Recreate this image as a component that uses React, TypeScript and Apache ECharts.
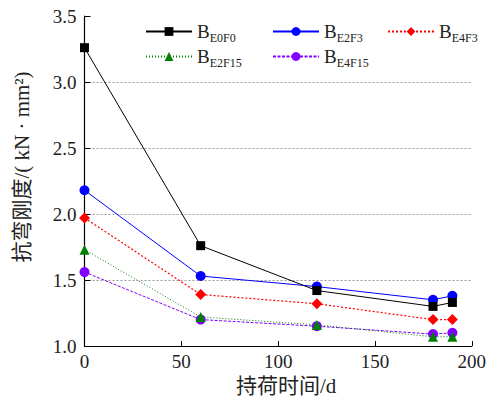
import React, { useEffect, useRef } from "react";
import * as echarts from "echarts";

const days = [0, 60, 120, 180, 190];
const seriesNames = ["BE0F0", "BE2F3", "BE4F3", "BE2F15", "BE4F15"];
const valE0F0 = [3.26, 1.76, 1.42, 1.30, 1.33];
const valE2F3 = [2.18, 1.53, 1.45, 1.35, 1.38];
const valE4F3 = [1.97, 1.39, 1.32, 1.20, 1.20];
const valE2F15 = [1.73, 1.22, 1.16, 1.07, 1.07];
const valE4F15 = [1.56, 1.20, 1.15, 1.09, 1.10];
const xTicks = [0, 50, 100, 150, 200];
const yTicks = [1.0, 1.5, 2.0, 2.5, 3.0, 3.5];
const xName = "持荷时间/d";
const yName = "抗弯刚度/( kN · mm²)";

const FONT = "'Liberation Serif', 'Noto Sans CJK SC', serif";

export default function App() {
  const ref = useRef<HTMLDivElement>(null);
  useEffect(() => {
    document.body.style.margin = "0";
    const chart = echarts.init(ref.current!, null, { renderer: "svg" });
    const pair = (vals: number[]) => days.map((d, i) => [d, vals[i]]);
    const styles = [
      { data: valE0F0, color: "#000000", symbol: "rect", size: 9, type: "solid" as any, width: 1 },
      { data: valE2F3, color: "#0000ff", symbol: "circle", size: 10, type: "solid" as any, width: 1 },
      { data: valE4F3, color: "#ff0000", symbol: "diamond", size: 11, type: [2, 2], width: 1.2 },
      { data: valE2F15, color: "#008000", symbol: "triangle", size: 10, type: [1, 2], width: 1 },
      { data: valE4F15, color: "#8000ff", symbol: "circle", size: 10, type: [3, 1.5], width: 1 },
    ];
    const series = styles.map((s, i) => ({
      name: seriesNames[i],
      type: "line",
      data: pair(s.data),
      symbol: s.symbol,
      symbolSize: s.size,
      itemStyle: { color: s.color },
      lineStyle: { color: s.color, width: s.width, type: s.type },
      z: 10 - i,
    }));
    const legendPos = [
      { left: 145, top: 22 },
      { left: 272, top: 22 },
      { left: 387, top: 22 },
      { left: 145, top: 47 },
      { left: 272, top: 47 },
    ];
    const legend = seriesNames.map((n, i) => ({
      data: [n],
      left: legendPos[i].left,
      top: legendPos[i].top,
      padding: 0,
      itemWidth: 46,
      itemHeight: 11,
      itemGap: 0,
      formatter: (name: string) => `{b|B}{s|${name.slice(1)}}`,
      textStyle: {
        padding: [0, 0, 0, 0],
        rich: {
          b: { fontFamily: FONT, fontSize: 19, color: "#222", lineHeight: 26, verticalAlign: "middle" },
          s: { fontFamily: FONT, fontSize: 12, color: "#222", lineHeight: 10, verticalAlign: "bottom" },
        },
      },
    }));
    chart.setOption({
      animation: false,
      legend,
      grid: { left: 84.5, right: 17, top: 16, bottom: 57 },
      xAxis: {
        type: "value",
        min: xTicks[0],
        max: xTicks[xTicks.length - 1],
        interval: 50,
        name: xName,
        nameLocation: "middle",
        nameGap: 27,
        nameTextStyle: { fontFamily: FONT, fontSize: 21, color: "#222", padding: [0, 0, 0, 16] },
        axisLine: { lineStyle: { color: "#000", width: 1.2 } },
        axisTick: { inside: true, length: 5, lineStyle: { color: "#000" } },
        axisLabel: { fontFamily: FONT, fontSize: 19, color: "#222", margin: 6 },
        splitLine: { show: false },
      },
      yAxis: {
        type: "value",
        min: yTicks[0],
        max: yTicks[yTicks.length - 1],
        interval: 0.5,
        name: yName,
        nameLocation: "middle",
        nameGap: 52,
        nameTextStyle: { fontFamily: FONT, fontSize: 21, color: "#222", padding: [0, 0, 0, 28] },
        axisLine: { show: true, lineStyle: { color: "#000", width: 1.2 } },
        axisTick: { show: true, inside: true, length: 6, lineStyle: { color: "#000" } },
        axisLabel: {
          fontFamily: FONT,
          fontSize: 19,
          color: "#222",
          margin: 8,
          formatter: (v: number) => v.toFixed(1),
        },
        splitLine: {
          show: true,
          showMinLine: false,
          showMaxLine: false,
          lineStyle: { color: "#999", type: [2, 2], width: 1 },
        },
      },
      series,
    });
    return () => chart.dispose();
  }, []);
  return <div ref={ref} style={{ width: 489, height: 403 }} />;
}
